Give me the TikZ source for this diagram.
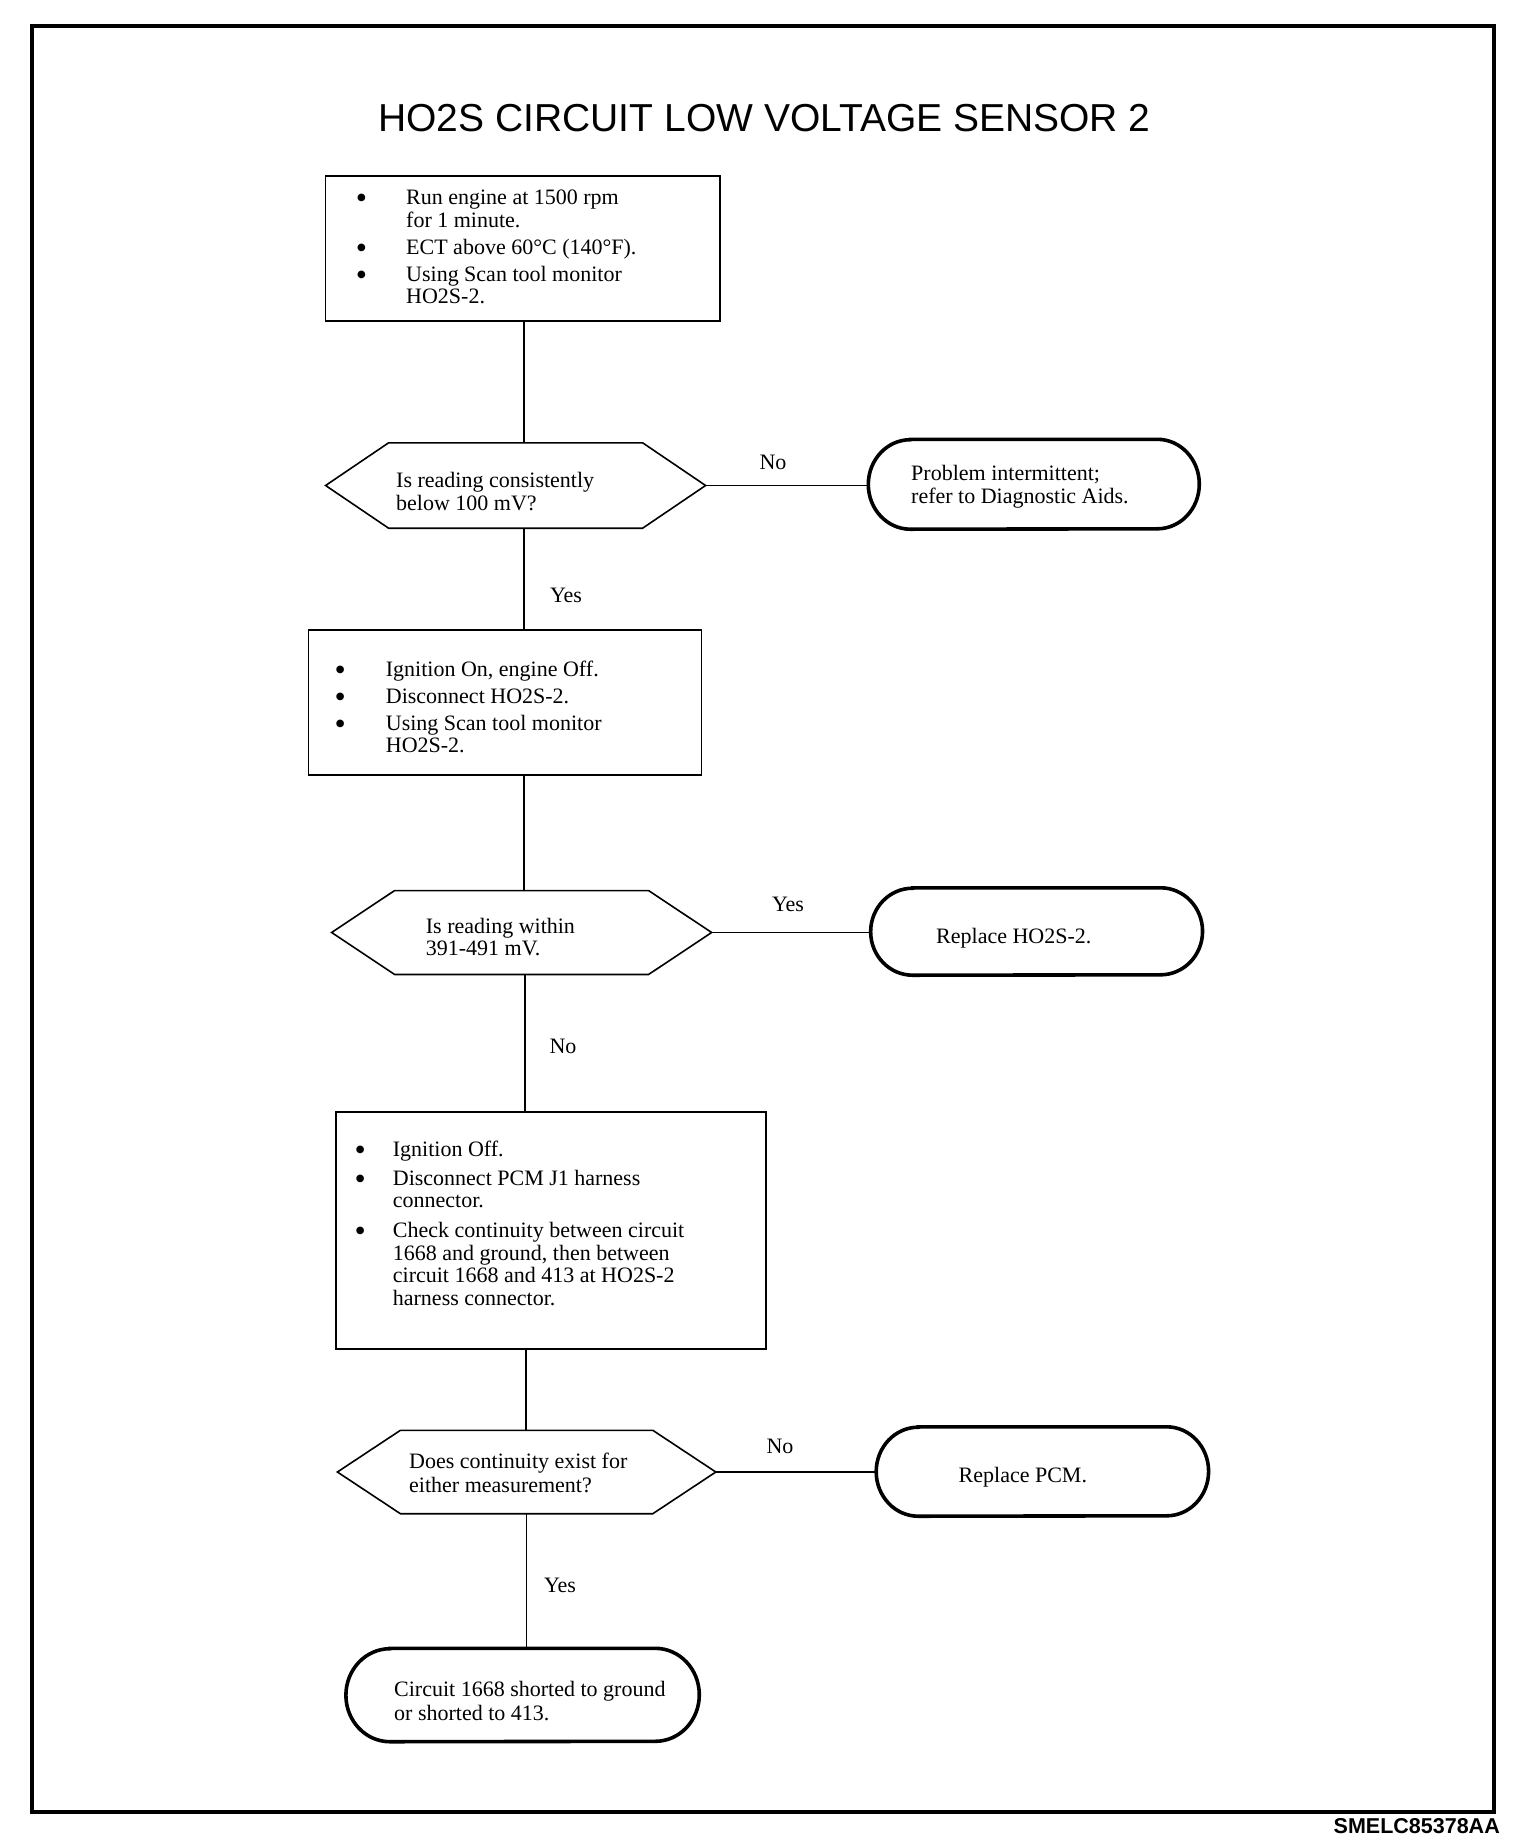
\documentclass[tikz,border=0pt]{standalone}
\usepackage{fontspec}
\setmainfont{Liberation Serif}
\newfontfamily\arialf{Liberation Sans}
\newfontfamily\dejavu{DejaVu Sans}
\usetikzlibrary{calc}
\newcommand\hexpath[2]{%
  \draw[shapeline] (#1.west) -- ([xshift=#2]#1.north west) -- ([xshift=-#2]#1.north east) -- (#1.east) -- ([xshift=-#2]#1.south east) -- ([xshift=#2]#1.south west) -- cycle;}
\newcommand\termpath[3]{%
  \draw[termline] ([xshift=#2]#1.north west) -- ([xshift=-#2]#1.north east) arc[start angle=90,end angle=-90,x radius=#2,y radius=#3] -- ([xshift=#2]#1.south west) arc[start angle=270,end angle=90,x radius=#2,y radius=#3] -- cycle;}
\newcommand\bigbul{\raisebox{4pt}{\dejavu\fontsize{10}{10}\selectfont ●}}
\begin{document}
\begin{tikzpicture}[x=1pt,y=1pt,
  box/.style={draw, line width=1.6pt, inner sep=0pt},
  ghost/.style={inner sep=0pt, draw=none},
  shapeline/.style={line width=1.6pt, line join=miter},
  termline/.style={line width=3.6pt},
  txt/.style={inner sep=0pt, font=\fontsize{22}{22.5}\selectfont},
  conn/.style={line width=1.6pt}]

\useasboundingbox (0,0) rectangle (1536,-1844);
\draw[line width=4pt] (32,-26) rectangle (1494,-1812);

\node[inner sep=0pt, font=\arialf\fontsize{39}{40}\selectfont] (title) at (764.5,-118) {HO2S CIRCUIT LOW VOLTAGE SENSOR 2};
\node[inner sep=0pt, anchor=east, font=\arialf\bfseries\fontsize{21.5}{22}\selectfont] (code) at (1500,-1826) {SMELC85378AA};

\begin{scope}[xshift=-2pt]
% spine coordinates
\coordinate (s1) at (526,0);
\coordinate (s2) at (527,0);
\coordinate (s3) at (528,0);
\coordinate (s4) at (528.5,0);

% box 1
\node[box, minimum width=394.6pt, minimum height=145pt] (b1) at (524.7,-248.5) {};
\node[txt, anchor=north west] (b1t) at (359,-188.75) {\begin{tabular}{@{}p{49pt}@{}l@{}}
\bigbul & Run engine at 1500 rpm\\
 & for 1 minute.\\[4.5pt]
\bigbul & ECT above 60°C (140°F).\\[4.5pt]
\bigbul & Using Scan tool monitor\\
 & HO2S-2.
\end{tabular}};

% decision 1
\node[ghost, minimum width=379.6pt, minimum height=85pt] (d1) at (517.6,-485.5) {};
\hexpath{d1}{63pt}
\node[txt, anchor=north west] (d1t) at (398,-471.25) {\begin{tabular}{@{}l@{}}
Is reading consistently\\[1pt]
below 100 mV?
\end{tabular}};

% terminal 1
\node[ghost, minimum width=330.6pt, minimum height=89.5pt] (t1) at (1035.8,-484.25) {};
\termpath{t1}{42pt}{44.75pt}
\node[txt, anchor=north west] (t1t) at (913,-464.25) {\begin{tabular}{@{}l@{}}
Problem intermittent;\\[1pt]
refer to Diagnostic Aids.
\end{tabular}};

% box 2
\node[box, minimum width=393pt, minimum height=145.5pt] (b2) at (506.85,-702.5) {};
\node[txt, anchor=north west] (b2t) at (337.7,-660.25) {\begin{tabular}{@{}p{50pt}@{}l@{}}
\bigbul & Ignition On, engine Off.\\[4.5pt]
\bigbul & Disconnect HO2S-2.\\[4.5pt]
\bigbul & Using Scan tool monitor\\
 & HO2S-2.
\end{tabular}};

% decision 2
\node[ghost, minimum width=379.6pt, minimum height=83.5pt] (d2) at (523.6,-932.5) {};
\hexpath{d2}{63pt}
\node[txt, anchor=north west] (d2t) at (427.7,-917.75) {\begin{tabular}{@{}l@{}}
Is reading within\\[-0.5pt]
391-491 mV.
\end{tabular}};

% terminal 2
\node[ghost, minimum width=331.5pt, minimum height=87pt] (t2) at (1038.6,-931.5) {};
\termpath{t2}{42pt}{43.5pt}
\node[txt, anchor=base west] (t2t) at (938,-943.5) {Replace HO2S-2.};

% box 3
\node[box, minimum width=430pt, minimum height=236.8pt] (b3) at (552.9,-1230.3) {};
\node[txt, anchor=north west] (b3t) at (357.7,-1140.75) {\begin{tabular}{@{}p{37pt}@{}l@{}}
\bigbul & Ignition Off.\\[6.2pt]
\bigbul & Disconnect PCM J1 harness\\
 & connector.\\[7.3pt]
\bigbul & Check continuity between circuit\\
 & 1668 and ground, then between\\
 & circuit 1668 and 413 at HO2S-2\\
 & harness connector.
\end{tabular}};

% decision 3
\node[ghost, minimum width=378pt, minimum height=83pt] (d3) at (528.6,-1472) {};
\hexpath{d3}{63pt}
\node[txt, anchor=north west] (d3t) at (411,-1452.25) {\begin{tabular}{@{}l@{}}
Does continuity exist for\\[1.5pt]
either measurement?
\end{tabular}};

% terminal 3
\node[ghost, minimum width=332pt, minimum height=89pt] (t3) at (1044.4,-1471.5) {};
\termpath{t3}{42pt}{44.5pt}
\node[txt, anchor=base west] (t3t) at (960.5,-1482.6) {Replace PCM.};

% terminal 4
\node[ghost, minimum width=353pt, minimum height=93pt] (t4) at (524.6,-1695) {};
\termpath{t4}{44pt}{46.5pt}
\node[txt, anchor=north west] (t4t) at (396,-1680.25) {\begin{tabular}{@{}l@{}}
Circuit 1668 shorted to ground\\[1.5pt]
or shorted to 413.
\end{tabular}};

% connectors
\draw[conn] (b1.south -| s1) -- (d1.north -| s1);
\draw[conn] (d1.south -| s1) -- (b2.north -| s1);
\draw[conn] (b2.south -| s1) -- (d2.north -| s1);
\draw[conn] (d2.south -| s2) -- (b3.north -| s2);
\draw[conn] (b3.south -| s3) -- (d3.north -| s3);
\draw[conn] (d3.south -| s4) -- (t4.north -| s4);
\draw[conn] (d1.east) -- (d1.east -| t1.west);
\draw[conn] (d2.east) -- (d2.east -| t2.west);
\draw[conn] (d3.east) -- (d3.east -| t3.west);

% labels
\node[txt] (l1) at (775,-462) {No};
\node[txt] (l2) at (568,-595) {Yes};
\node[txt] (l3) at (790,-904) {Yes};
\node[txt] (l4) at (565,-1046) {No};
\node[txt] (l5) at (782,-1446) {No};
\node[txt] (l6) at (562,-1585) {Yes};
\end{scope}
\end{tikzpicture}
\end{document}
